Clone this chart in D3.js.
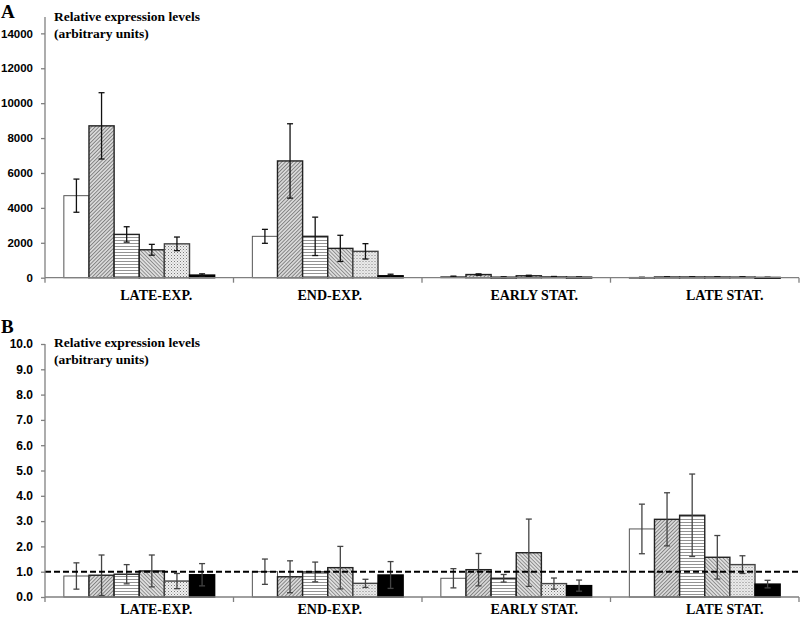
<!DOCTYPE html>
<html>
<head>
<meta charset="utf-8">
<script src="https://cdn.jsdelivr.net/npm/d3@7"></script>
<style>
  html, body { margin: 0; padding: 0; background: #fff; }
  svg { display: block; }
</style>
</head>
<body>
<svg id="chart" width="800" height="617"></svg>
<script>
// ---------------- DATA ----------------
const categories = ["LATE-EXP.", "END-EXP.", "EARLY STAT.", "LATE STAT."];
const seriesNames = ["s1", "s2", "s3", "s4", "s5", "s6"];

// Panel A (rows = categories, columns = series)
const valuesA = [
  [4700, 8700, 2480, 1600, 1940, 150],
  [2370, 6690, 2370, 1680, 1510, 110],
  [60, 180, 30, 110, 50, 30],
  [15, 40, 40, 40, 40, 15]
];
const errorsA = [
  [950, 1900, 440, 310, 390, 70],
  [400, 2130, 1100, 750, 440, 90],
  [30, 40, 20, 30, 20, 10],
  [10, 10, 10, 10, 10, 10]
];
const ticksA = [0, 2000, 4000, 6000, 8000, 10000, 12000, 14000];

// Panel B
const valuesB = [
  [0.83, 0.86, 0.90, 1.03, 0.63, 0.88],
  [1.00, 0.80, 0.99, 1.16, 0.54, 0.87],
  [0.74, 1.08, 0.74, 1.75, 0.53, 0.45],
  [2.69, 3.07, 3.23, 1.57, 1.28, 0.51]
];
const errorsB = [
  [0.52, 0.80, 0.38, 0.63, 0.30, 0.44],
  [0.50, 0.63, 0.39, 0.84, 0.16, 0.53],
  [0.38, 0.64, 0.15, 1.33, 0.22, 0.22],
  [0.98, 1.05, 1.63, 0.86, 0.35, 0.15]
];
const ticksB = [0, 1, 2, 3, 4, 5, 6, 7, 8, 9, 10];
const referenceB = 1.0;

const titleLines = ["Relative expression levels", "(arbitrary units)"];

// ---------------- LAYOUT ----------------
const svg = d3.select("#chart");
const left = 45, right = 799;
const labelDx = [17, 2, 18, 20];

// patterns
const defs = svg.append("defs");
function linePattern(id, angle, gap, color, bg, sw) {
  const p = defs.append("pattern").attr("id", id).attr("patternUnits", "userSpaceOnUse")
    .attr("width", gap).attr("height", gap).attr("patternTransform", `rotate(${angle})`);
  p.append("rect").attr("width", gap).attr("height", gap).attr("fill", bg);
  p.append("line").attr("x1", 0).attr("y1", 0).attr("x2", gap).attr("y2", 0)
    .attr("stroke", color).attr("stroke-width", sw);
}
linePattern("p2", -45, 2.6, "#3a3a3a", "#d8d8d8", 1);
linePattern("p3", 0, 3, "#3a3a3a", "#ffffff", 1.1);
linePattern("p4", 45, 2.6, "#4a4a4a", "#dedede", 1);
{
  const p = defs.append("pattern").attr("id", "p5").attr("patternUnits", "userSpaceOnUse")
    .attr("width", 3).attr("height", 3);
  p.append("rect").attr("width", 3).attr("height", 3).attr("fill", "#efefef");
  p.append("rect").attr("x", 0).attr("y", 0).attr("width", 1).attr("height", 1).attr("fill", "#7a7a7a");
  p.append("rect").attr("x", 1.5).attr("y", 1.5).attr("width", 1).attr("height", 1).attr("fill", "#a8a8a8");
}
const fills = ["#ffffff", "url(#p2)", "url(#p3)", "url(#p4)", "url(#p5)", "#000000"];
const strokes = ["#555", "#222", "#222", "#222", "#444", "#000"];

const x0 = d3.scaleBand().domain(categories).range([left, right]).paddingInner(0).paddingOuter(0);
const bw = x0.bandwidth() / 7.5;
const x1 = d3.scaleBand().domain(seriesNames)
  .range([(x0.bandwidth() - 6 * bw) / 2, (x0.bandwidth() + 6 * bw) / 2]).padding(0);

function drawPanel(cfg) {
  const g = svg.append("g");
  const y = d3.scaleLinear().domain(cfg.domain).range([cfg.bottom, cfg.top]);

  // bars
  categories.forEach((c, ci) => {
    const gc = g.append("g").attr("transform", `translate(${x0(c)},0)`);
    const rows = seriesNames.map((s, si) => ({ s, si, v: cfg.values[ci][si], e: cfg.errors[ci][si] }));
    gc.selectAll("rect.bar").data(rows).join("rect").attr("class", "bar")
      .attr("x", d => x1(d.s))
      .attr("y", d => y(d.v))
      .attr("width", x1.bandwidth())
      .attr("height", d => Math.max(0.8, y(0) - y(d.v)))
      .attr("fill", d => fills[d.si])
      .attr("stroke", d => strokes[d.si])
      .attr("stroke-width", d => d.si === 0 ? 1 : 1.4);

    // error bars
    const eb = gc.selectAll("g.err").data(rows).join("g").attr("class", "err")
      .attr("stroke", cfg.errColor).attr("stroke-width", 1.3);
    eb.append("line")
      .attr("x1", d => x1(d.s) + x1.bandwidth() / 2).attr("x2", d => x1(d.s) + x1.bandwidth() / 2)
      .attr("y1", d => y(Math.max(0, d.v - d.e))).attr("y2", d => y(d.v + d.e));
    [1, -1].forEach(sign => {
      eb.append("line")
        .attr("x1", d => x1(d.s) + x1.bandwidth() / 2 - 3).attr("x2", d => x1(d.s) + x1.bandwidth() / 2 + 3)
        .attr("y1", d => y(Math.max(0, d.v + sign * d.e))).attr("y2", d => y(Math.max(0, d.v + sign * d.e)));
    });
  });

  // reference line
  if (cfg.ref !== undefined) {
    g.append("line").attr("x1", left).attr("x2", right)
      .attr("y1", y(cfg.ref)).attr("y2", y(cfg.ref))
      .attr("stroke", "#000").attr("stroke-width", 2).attr("stroke-dasharray", "6,3");
  }

  // y axis
  const ya = g.append("g").attr("transform", `translate(${left},0)`)
    .call(d3.axisLeft(y).tickValues(cfg.ticks).tickFormat(cfg.fmt).tickSize(4).tickSizeOuter(0));
  ya.select(".domain").attr("stroke", "#808080").attr("stroke-width", 1.3)
    .attr("d", `M0,${y.range()[1] + cfg.axisTopPad}V${y(0)}`);
  ya.selectAll(".tick line").attr("stroke", "#808080").attr("stroke-width", 1.3);
  ya.selectAll(".tick text").attr("x", -12)
    .attr("font-family", "'Liberation Sans', Arial, sans-serif").attr("font-weight", "bold")
    .attr("font-size", cfg.tickFont).attr("fill", "#000");

  // x axis baseline with boundary ticks
  const xa = g.append("g");
  xa.append("line").attr("x1", left).attr("x2", right).attr("y1", y(0)).attr("y2", y(0))
    .attr("stroke", "#808080").attr("stroke-width", 1.3);
  const bounds = categories.map(c => x0(c)).concat([right]);
  xa.selectAll("line.bt").data(bounds).join("line").attr("class", "bt")
    .attr("x1", d => d).attr("x2", d => d).attr("y1", y(0)).attr("y2", y(0) + 5)
    .attr("stroke", "#808080").attr("stroke-width", 1.3);
  xa.selectAll("text").data(categories).join("text")
    .attr("x", (d, i) => x0(d) + x0.bandwidth() / 2 + labelDx[i])
    .attr("y", y(0) + cfg.labelDy)
    .attr("text-anchor", "middle")
    .attr("font-family", "'Liberation Serif', 'Times New Roman', serif")
    .attr("font-weight", "bold").attr("font-size", 14)
    .text(d => d);

  // title
  titleLines.forEach((t, i) => {
    g.append("text").attr("x", 54).attr("y", cfg.titleY + i * 17)
      .attr("font-family", "'Liberation Serif', 'Times New Roman', serif")
      .attr("font-weight", "bold").attr("font-size", 13.5).text(t);
  });

  // panel letter
  g.append("text").attr("x", 1).attr("y", cfg.letterY)
    .attr("font-family", "'Liberation Serif', 'Times New Roman', serif")
    .attr("font-weight", "bold").attr("font-size", 19).text(cfg.letter);
}

drawPanel({
  values: valuesA, errors: errorsA, ticks: ticksA, domain: [0, 15000],
  top: 15.9, bottom: 277.7, axisTopPad: 1, fmt: d3.format("d"), tickFont: 11.5,
  errColor: "#111", labelDy: 22, titleY: 21, letterY: 18, letter: "A"
});
drawPanel({
  values: valuesB, errors: errorsB, ticks: ticksB, domain: [0, 10],
  top: 344, bottom: 597, axisTopPad: 0, fmt: d3.format(".1f"), tickFont: 12,
  errColor: "#444", labelDy: 17, titleY: 347, letterY: 333, letter: "B", ref: referenceB
});
</script>
</body>
</html>
